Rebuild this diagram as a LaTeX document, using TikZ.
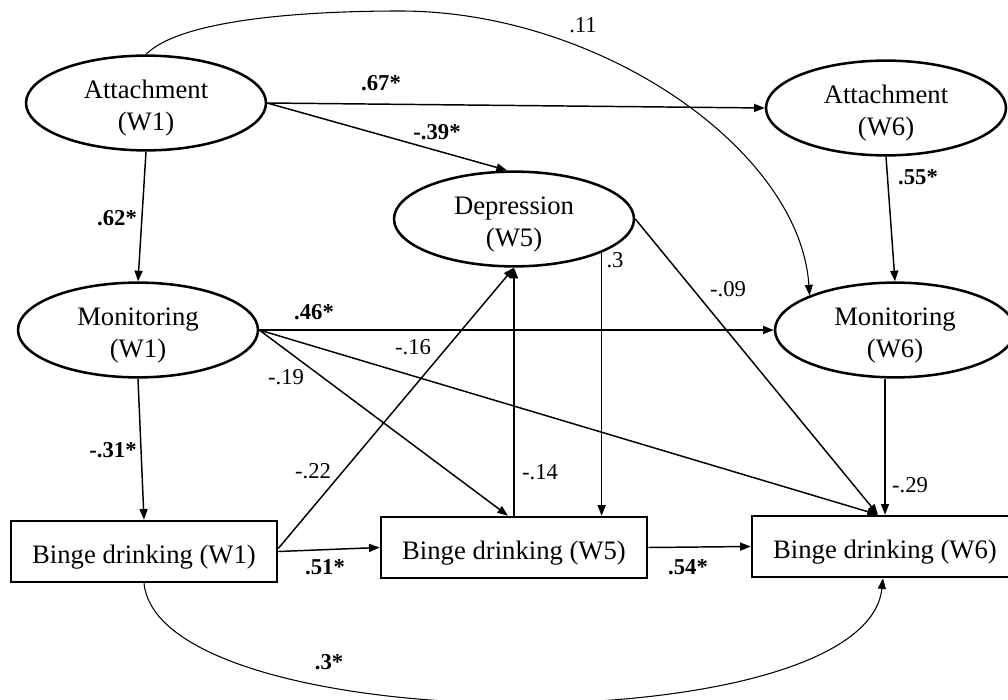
\documentclass[tikz,border=0pt]{standalone}
\usepackage{fontspec}
\setmainfont{Liberation Serif}
\usetikzlibrary{shapes.geometric,arrows.meta,calc}
\newcommand\liftstrut{\rule{0pt}{22pt}}
\begin{document}
\begin{tikzpicture}[x=0.75pt,y=-0.75pt,
  lat/.style={ellipse,draw,line width=1.9pt,minimum width=180pt,minimum height=69pt,inner sep=0pt,align=center,font=\fontsize{20}{24}\selectfont},
  obs/.style={rectangle,draw,line width=1.9pt,minimum width=199.5pt,minimum height=45.75pt,inner sep=0pt,font=\fontsize{20}{24}\selectfont,execute at begin node={\rule{0pt}{22.5pt}}},
  arr/.style={line width=1.1pt,-{Triangle[length=8pt,width=6pt]}},
  cov/.style={line width=0.8pt,-{Triangle[length=8pt,width=6pt]}},
  lab/.style={font=\fontsize{17}{20}\selectfont,inner sep=0pt},
  blab/.style={font=\fontsize{17}{20}\selectfont\bfseries,inner sep=0pt}]
\clip (0,0) rectangle (1008,700);
\fill[white] (0,0) rectangle (1008,700);
% nodes
\node[lat] (attw1) at (146,103) {\liftstrut Attachment\\(W1)};
\node[lat] (attw6) at (886,108) {\liftstrut Attachment\\(W6)};
\node[lat] (dep) at (514,219) {\liftstrut Depression\\(W5)};
\node[lat] (monw1) at (138,330) {\liftstrut Monitoring\\(W1)};
\node[lat] (monw6) at (895,330) {\liftstrut Monitoring\\(W6)};
\node[obs] (bw1) at (144,551.5) {Binge drinking (W1)};
\node[obs] (bw5) at (514,547.5) {Binge drinking (W5)};
\node[obs] (bw6) at (885,546.5) {Binge drinking (W6)};
% connectors
\draw[arr] (attw1.east) -- (attw6.west);
\draw[arr] (attw1.east) -- ($(dep.north)+(-7,0)$);
\draw[arr] (attw1.south) -- (monw1.north);
\coordinate (top11) at (400,11);
\draw[cov] (attw1.north) .. controls (180,20) and (300,11) .. (top11) .. controls (600,11) and (800,150) .. (monw6.158);
\draw[arr] (attw6.south) -- (monw6.north);
\draw[arr] (monw1.east) -- (monw6.west);
\draw[arr] (monw1.south) -- (bw1.north);
\draw[arr] (monw1.east) -- ($(bw5.north)+(-6,0)$);
\draw[arr] (monw1.east) -- ($(bw6.north)+(-7,0)$);
\draw[arr] ($(bw1.east)+(0,-3)$) -- (dep.south);
\draw[arr] (bw5.north) -- (dep.south);
\draw[arr] (dep.339.6) -- (dep.339.6 |- bw5.north);
\draw[arr] (dep.east) -- ($(bw6.north)+(-7,0)$);
\draw[arr] (monw6.south -| bw6.north) -- (bw6.north);
\draw[arr] (bw1.east) -- (bw5.west);
\draw[arr] (bw5.east) -- (bw6.west);
\draw[cov] (bw1.south) .. controls (160,740) and (865,745) .. ($(bw6.south)+(-2,0)$);
% labels
\node[blab] (l67) at (381,83) {.67*};
\node[blab] (l39) at (437,132) {-.39*};
\node[lab] (l11) at (583,25) {.11};
\node[blab] (l62) at (117,218) {.62*};
\node[blab] (l55) at (918,177) {.55*};
\node[blab] (l46) at (314,312) {.46*};
\node[lab] (l19) at (286,377) {-.19};
\node[blab] (l31) at (113,450) {-.31*};
\node[lab] (l22) at (313,471) {-.22};
\node[lab] (l16) at (413,347) {-.16};
\node[lab] (l14) at (540,472) {-.14};
\node[lab] (l3) at (615,260) {.3};
\node[lab] (l09) at (728,289) {-.09};
\node[lab] (l29) at (910,485) {-.29};
\node[blab] (l51) at (325,567) {.51*};
\node[blab] (l54) at (688,567) {.54*};
\node[blab] (l3s) at (329,662) {.3*};
\end{tikzpicture}
\end{document}
